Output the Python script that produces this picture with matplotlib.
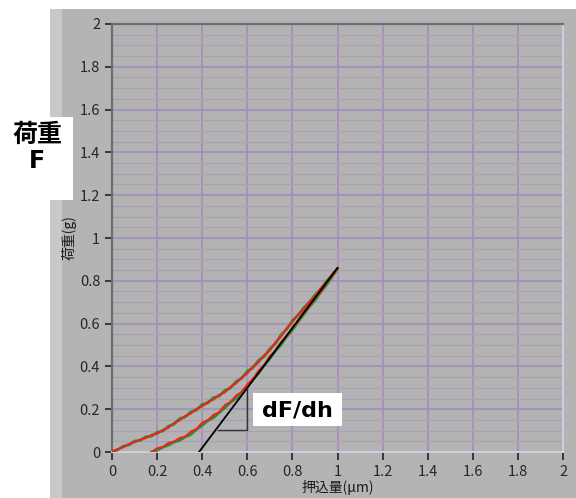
"""indentation load-depth curve with unloading slope
"""

import numpy as np
import matplotlib.pyplot as plt
from matplotlib.patches import Rectangle

plt.rcParams['font.family'] = ['Liberation Sans Narrow', 'Noto Sans CJK JP', 'DejaVu Sans']

# loading curve, two runs
load_x = [0.0, 0.025, 0.05, 0.075, 0.1, 0.125, 0.15, 0.175, 0.2, 0.225, 0.25,
          0.275, 0.3, 0.325, 0.35, 0.375, 0.4, 0.425, 0.45, 0.475, 0.5, 0.525,
          0.55, 0.575, 0.6, 0.625, 0.65, 0.675, 0.7, 0.725, 0.75, 0.775, 0.8,
          0.825, 0.85, 0.875, 0.9, 0.925, 0.95, 0.975, 1.0]
load_red = [0.004, 0.014, 0.022, 0.038, 0.045, 0.059, 0.064, 0.081, 0.084, 0.104,
            0.112, 0.136, 0.147, 0.169, 0.179, 0.203, 0.212, 0.235, 0.244, 0.268,
            0.277, 0.305, 0.319, 0.350, 0.366, 0.400, 0.418, 0.453, 0.473, 0.514,
            0.539, 0.580, 0.606, 0.644, 0.666, 0.704, 0.726, 0.766, 0.790, 0.830,
            0.860]
load_green = [0.000, 0.010, 0.027, 0.033, 0.051, 0.054, 0.071, 0.074, 0.092, 0.098,
              0.120, 0.130, 0.156, 0.164, 0.188, 0.196, 0.222, 0.229, 0.254, 0.261,
              0.287, 0.299, 0.329, 0.344, 0.377, 0.394, 0.428, 0.447, 0.482, 0.507,
              0.548, 0.574, 0.614, 0.638, 0.674, 0.698, 0.734, 0.760, 0.797, 0.824,
              0.856]

# unloading curve, two runs
unload_x = [0.175, 0.2, 0.225, 0.25, 0.275, 0.3, 0.325, 0.35, 0.375, 0.4, 0.425,
            0.45, 0.475, 0.5, 0.525, 0.55, 0.575, 0.6, 0.625, 0.65, 0.675, 0.7,
            0.725, 0.75, 0.775, 0.8, 0.825, 0.85, 0.875, 0.9, 0.925, 0.95, 0.975,
            1.0]
unload_red = [0.000, 0.018, 0.024, 0.043, 0.049, 0.066, 0.073, 0.096, 0.108, 0.138,
              0.149, 0.174, 0.186, 0.219, 0.234, 0.264, 0.281, 0.317, 0.341, 0.381,
              0.406, 0.449, 0.474, 0.515, 0.541, 0.582, 0.610, 0.654, 0.680, 0.720,
              0.748, 0.791, 0.820, 0.860]
unload_green = [0.000, 0.008, 0.022, 0.032, 0.047, 0.054, 0.071, 0.083, 0.106, 0.125,
                0.147, 0.161, 0.184, 0.206, 0.232, 0.251, 0.279, 0.304, 0.340, 0.368,
                0.404, 0.436, 0.472, 0.502, 0.539, 0.570, 0.608, 0.642, 0.678, 0.708,
                0.746, 0.779, 0.818, 0.856]

# tangent at the start of unloading
slope_x = [0.386, 1.0]
slope_y = [0.0, 0.86]
tri_x = [0.47, 0.6, 0.6]
tri_y = [0.103, 0.103, 0.297]

ticks = [0, 0.2, 0.4, 0.6, 0.8, 1, 1.2, 1.4, 1.6, 1.8, 2]
tick_labels = ['0', '0.2', '0.4', '0.6', '0.8', '1', '1.2', '1.4', '1.6', '1.8', '2']

W, H = 576, 498
fig = plt.figure(figsize=(W / 100, H / 100), dpi=100)
fig.patch.set_facecolor('white')

# panel background
fig.patches.append(Rectangle((50 / W, 0), 1 - 50 / W, 1 - 9 / H, transform=fig.transFigure,
                             facecolor='#b4b4b4', edgecolor='none', zorder=0))
fig.patches.append(Rectangle((50 / W, 0), 12 / W, 1 - 9 / H, transform=fig.transFigure,
                             facecolor='#c8c8c8', edgecolor='none', zorder=0))
fig.patches.append(Rectangle((0, 1 - 200 / H), 73 / W, 83 / H, transform=fig.transFigure,
                             facecolor='white', edgecolor='none', zorder=1))

ax = fig.add_axes([112 / W, 46 / H, 451 / W, 428 / H])
ax.set_zorder(2)
ax.set_facecolor('#b3b3b3')
ax.set_xlim(0, 2)
ax.set_ylim(0, 2)

ax.set_xticks(ticks)
ax.set_xticklabels(tick_labels)
ax.set_yticks(ticks)
ax.set_yticklabels(tick_labels)
ax.set_yticks(np.arange(0, 2.01, 0.05), minor=True)
ax.tick_params(axis='both', which='major', labelsize=10.5, labelcolor='#262626',
               color='#222222', length=5, width=1.2)
ax.tick_params(axis='x', which='major', pad=3, length=6)
ax.tick_params(axis='y', which='minor', length=0)

ax.grid(True, which='major', axis='both', color='#a68cbc', linewidth=1.2, zorder=1)
ax.grid(True, which='minor', axis='y', color='#aa9eb8', linewidth=0.9, zorder=1)
ax.set_axisbelow(True)

for side in ['top', 'left']:
    ax.spines[side].set_color('#6c6c74')
    ax.spines[side].set_linewidth(1.6)
for side in ['bottom', 'right']:
    ax.spines[side].set_color('#d6cce0')
    ax.spines[side].set_linewidth(1.4)

ax.plot(load_x, load_green, color='#2e8b2e', linewidth=2.0, zorder=3)
ax.plot(unload_x, unload_green, color='#2e8b2e', linewidth=2.0, zorder=3)
ax.plot(load_x, load_red, color='#ff1a1a', linewidth=1.3, zorder=4)
ax.plot(unload_x, unload_red, color='#ff1a1a', linewidth=1.3, zorder=4)
ax.plot(slope_x, slope_y, color='black', linewidth=1.3, zorder=5)
ax.plot(tri_x, tri_y, color='#333333', linewidth=1.0, zorder=5)

ax.set_xlabel('押込量(μm)', fontsize=10, family=['Noto Sans CJK JP', 'DejaVu Sans'],
              labelpad=1, color='#1a1a1a')
ax.set_ylabel('荷重(g)', fontsize=10, family=['Noto Sans CJK JP', 'DejaVu Sans'],
              labelpad=2, color='#1a1a1a')

# annotation boxes
fig.text(37 / W, 1 - 135 / H, '荷重', ha='center', va='center', fontsize=18,
         fontweight='bold', family=['Noto Sans CJK JP', 'DejaVu Sans'], zorder=6)
fig.text(37 / W, 1 - 161 / H, 'F', ha='center', va='center', fontsize=17,
         fontweight='bold', family=['DejaVu Sans'], zorder=6)
dfdh_box = Rectangle((253 / W, 1 - 426 / H), 89 / W, 33 / H, transform=fig.transFigure,
                     facecolor='white', edgecolor='none', zorder=6)
fig.add_artist(dfdh_box)
fig.text(297 / W, 1 - 410 / H, 'dF/dh', ha='center', va='center', fontsize=16,
         fontweight='bold', family='DejaVu Sans', zorder=7)

fig.savefig('out.png', dpi=100)
